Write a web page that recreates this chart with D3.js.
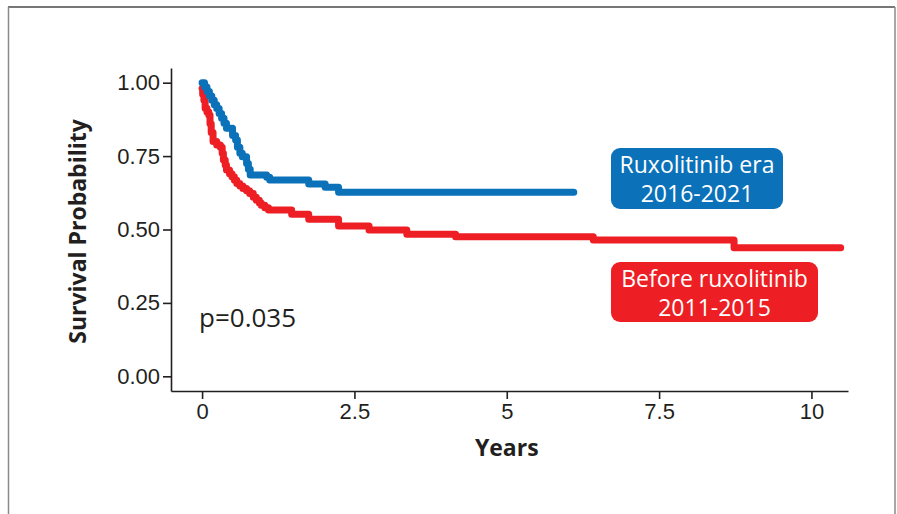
<!DOCTYPE html>
<html>
<head>
<meta charset="utf-8">
<script src="https://cdn.jsdelivr.net/npm/d3@7"></script>
<style>
  html, body { margin: 0; padding: 0; background: #fff; }
  svg { display: block; font-family: "Open Sans", "Noto Sans", sans-serif; }
  .axis path, .axis line { stroke: #231f20; stroke-width: 1.6; }
  .axis text { fill: #231f20; font-size: 22px; }
</style>
</head>
<body>
<svg id="km"></svg>
<script>
// Kaplan-Meier steps: [years, survival]
const RUX_TIMES = [0, 0.04, 0.08, 0.12, 0.16, 0.20, 0.24, 0.28, 0.32, 0.36, 0.40, 0.50, 0.55, 0.58, 0.62, 0.66, 0.73, 0.76, 0.79, 1.06, 1.11, 1.75, 2.02, 2.24, 6.10];
const RUX_SURV  = [1.0, 0.985, 0.97, 0.955, 0.94, 0.925, 0.912, 0.895, 0.879, 0.862, 0.845, 0.82, 0.805, 0.78, 0.76, 0.748, 0.725, 0.705, 0.686, 0.678, 0.669, 0.655, 0.644, 0.627, 0.627];

const PRE_TIMES = [0, 0.01, 0.03, 0.05, 0.08, 0.11, 0.13, 0.15, 0.18, 0.24, 0.30, 0.33, 0.35, 0.38, 0.40, 0.45, 0.49, 0.53, 0.57, 0.62, 0.67, 0.73, 0.78, 0.84, 0.89, 0.94, 0.97, 1.03, 1.09, 1.47, 1.75, 2.24, 2.74, 3.36, 4.16, 6.42, 8.73, 10.48];
const PRE_SURV  = [0.98, 0.96, 0.94, 0.913, 0.90, 0.89, 0.86, 0.83, 0.80, 0.788, 0.78, 0.76, 0.737, 0.72, 0.703, 0.69, 0.68, 0.668, 0.657, 0.648, 0.64, 0.632, 0.623, 0.61, 0.60, 0.59, 0.583, 0.574, 0.566, 0.552, 0.535, 0.512, 0.498, 0.484, 0.475, 0.464, 0.438, 0.438];

const X_TICKS = [0, 2.5, 5, 7.5, 10];
const Y_TICKS = [0, 0.25, 0.5, 0.75, 1];

const RUX_LABEL = ["Ruxolitinib era", "2016-2021"];
const PRE_LABEL = ["Before ruxolitinib", "2011-2015"];
const P_LABEL   = "p=0.035";

const BLUE = "#0b72ba";
const RED  = "#ed1f24";
const INK  = "#231f20";

const SVG_W = 897;
const SVG_H = 514;
const PLOT  = { left: 171, right: 848, top: 68, bottom: 391 };

const svg = d3.select("#km")
  .attr("width", SVG_W)
  .attr("height", SVG_H);

// page frame
svg.append("line").attr("x1", 8).attr("x2", 895).attr("y1", 7).attr("y2", 7)
  .attr("stroke", "#4a4a4a").attr("stroke-width", 1.5);
svg.append("line").attr("x1", 8.5).attr("x2", 8.5).attr("y1", 7).attr("y2", SVG_H)
  .attr("stroke", "#8a8a8a").attr("stroke-width", 1.5);
svg.append("line").attr("x1", 895).attr("x2", 895).attr("y1", 7).attr("y2", SVG_H)
  .attr("stroke", "#8a8a8a").attr("stroke-width", 1.5);

const x = d3.scaleLinear().domain([-0.51, 10.6]).range([PLOT.left, PLOT.right]);
const y = d3.scaleLinear().domain([-0.05, 1.05]).range([PLOT.bottom, PLOT.top]);

svg.append("g")
  .attr("class", "axis")
  .attr("transform", `translate(0,${PLOT.bottom})`)
  .call(d3.axisBottom(x).tickValues(X_TICKS).tickFormat((d) => String(d))
    .tickSize(8).tickPadding(4).tickSizeOuter(0));

svg.append("g")
  .attr("class", "axis")
  .attr("transform", `translate(${PLOT.left},0)`)
  .call(d3.axisLeft(y).tickValues(Y_TICKS).tickFormat(d3.format(".2f"))
    .tickSize(8).tickPadding(3).tickSizeOuter(0));

// axis titles
svg.append("text")
  .attr("x", x(5))
  .attr("y", 456)
  .attr("text-anchor", "middle")
  .attr("font-size", 23)
  .attr("font-weight", 700)
  .attr("fill", INK)
  .text("Years");

svg.append("text")
  .attr("transform", `translate(86,${y(0.5) + 2}) rotate(-90)`)
  .attr("text-anchor", "middle")
  .attr("font-size", 23)
  .attr("font-weight", 700)
  .attr("fill", INK)
  .text("Survival Probability");

// curves
const line = d3.line()
  .x((d) => x(d[0]))
  .y((d) => y(d[1]))
  .curve(d3.curveStepAfter);

const series = [
  { color: RED,  pts: PRE_TIMES.map((t, i) => [t, PRE_SURV[i]]) },
  { color: BLUE, pts: RUX_TIMES.map((t, i) => [t, RUX_SURV[i]]) }
];

svg.append("g").selectAll("path")
  .data(series)
  .enter().append("path")
  .attr("d", (d) => line(d.pts))
  .attr("fill", "none")
  .attr("stroke", (d) => d.color)
  .attr("stroke-width", 7)
  .attr("stroke-linecap", "round")
  .attr("stroke-linejoin", "round");

// p value
svg.append("text")
  .attr("x", 199)
  .attr("y", 327)
  .attr("font-size", 26)
  .attr("fill", INK)
  .text(P_LABEL);

// labelled boxes
function labelBox(x0, y0, w, h, color, lines) {
  const g = svg.append("g");
  g.append("rect")
    .attr("x", x0).attr("y", y0)
    .attr("width", w).attr("height", h)
    .attr("rx", 9).attr("ry", 9)
    .attr("fill", color);
  lines.forEach((t, i) => {
    g.append("text")
      .attr("x", x0 + w / 2)
      .attr("y", y0 + 25 + i * 29)
      .attr("text-anchor", "middle")
      .attr("font-size", 23)
      .attr("fill", "#fff")
      .text(t);
  });
}

labelBox(611, 148, 172, 61, BLUE, RUX_LABEL);
labelBox(611, 262, 207, 60, RED, PRE_LABEL);
</script>
</body>
</html>
